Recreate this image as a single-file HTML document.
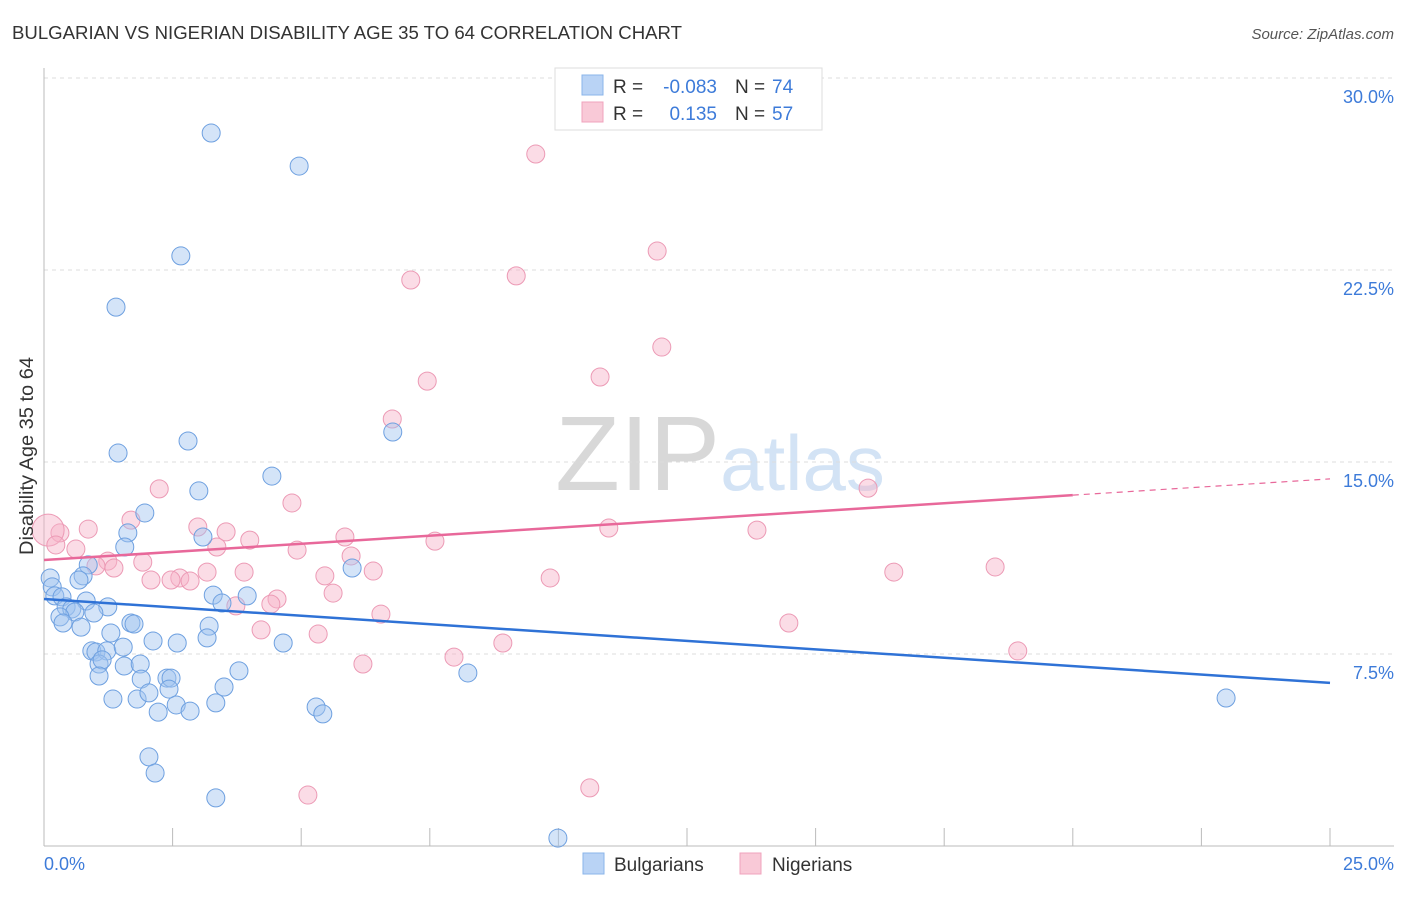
<!DOCTYPE html>
<html><head><meta charset="utf-8"><style>
body{margin:0;background:#fff;font-family:"Liberation Sans",sans-serif;}
svg text{font-family:"Liberation Sans",sans-serif;}
</style></head><body>
<svg id="chart" width="1406" height="892" viewBox="0 0 1406 892" xmlns="http://www.w3.org/2000/svg">
<text x="12" y="39" font-size="18" fill="#333" textLength="670" lengthAdjust="spacingAndGlyphs">BULGARIAN VS NIGERIAN DISABILITY AGE 35 TO 64 CORRELATION CHART</text>
<text x="1394" y="39" font-size="15" fill="#555" text-anchor="end" font-style="italic">Source: ZipAtlas.com</text>
<text x="720" y="490" font-size="106" text-anchor="middle" fill="#ddd" font-family="Liberation Serif"><tspan fill="#d8d8d8">ZIP</tspan><tspan fill="#d3e3f5" font-family="Liberation Sans" font-size="78">atlas</tspan></text>
<g id="grid"></g>
<g id="axes"></g>
<g id="pts"></g>
<g id="trend"></g>
<text transform="translate(33,456) rotate(-90)" font-size="19" fill="#333" text-anchor="middle" textLength="198" lengthAdjust="spacingAndGlyphs">Disability Age 35 to 64</text>
<g>
<rect x="555" y="68" width="267" height="62" fill="#fff" stroke="#ddd"/>
<rect x="582" y="75" width="21" height="20" fill="#b9d3f5" stroke="#8ab4ea"/>
<rect x="582" y="102" width="21" height="20" fill="#f9c9d7" stroke="#f0a3bc"/>
<text x="613" y="93" font-size="19" fill="#333">R =</text><text x="717" y="93" font-size="19" fill="#3d7bd9" text-anchor="end">-0.083</text>
<text x="735" y="93" font-size="19" fill="#333">N =</text><text x="772" y="93" font-size="19" fill="#3d7bd9">74</text>
<text x="613" y="120" font-size="19" fill="#333">R =</text><text x="717" y="120" font-size="19" fill="#3d7bd9" text-anchor="end">0.135</text>
<text x="735" y="120" font-size="19" fill="#333">N =</text><text x="772" y="120" font-size="19" fill="#3d7bd9">57</text>
</g>
<g>
<rect x="583" y="853" width="21" height="21" fill="#b9d3f5" stroke="#8ab4ea"/>
<text x="614" y="871" font-size="19" fill="#333">Bulgarians</text>
<rect x="740" y="853" width="21" height="21" fill="#f9c9d7" stroke="#f0a3bc"/>
<text x="772" y="871" font-size="19" fill="#333">Nigerians</text>
</g>
</svg>
<script>
const xTickLabels=["0.0%","25.0%"];
const yTicks=[7.5,15,22.5,30];
const yTickLabels=["7.5%","15.0%","22.5%","30.0%"];
const bulgX=[3.25,4.96,2.66,1.40,1.44,2.80,6.78,4.43,3.01,1.96,1.63,1.57,3.09,0.86,5.99,0.76,0.12,0.16,0.21,0.35,0.68,0.82,0.43,0.54,0.60,1.24,0.97,0.31,0.37,0.72,3.29,3.46,3.95,1.69,1.75,1.30,2.12,2.59,3.21,3.17,4.65,0.93,1.01,1.22,1.54,1.07,1.13,1.56,1.87,1.07,1.89,2.39,2.47,2.43,3.79,3.50,8.24,1.34,1.81,2.04,2.22,2.57,2.84,3.34,5.29,5.42,2.04,2.16,3.34,9.99,22.98];
const bulgY=[27.85,26.56,23.05,21.05,15.35,15.82,16.17,14.45,13.87,13.01,12.23,11.68,12.07,10.98,10.86,10.55,10.47,10.12,9.77,9.73,10.39,9.57,9.34,9.26,9.14,9.34,9.10,8.95,8.71,8.55,9.80,9.49,9.77,8.71,8.67,8.32,8.01,7.93,8.59,8.13,7.93,7.62,7.58,7.62,7.77,7.11,7.27,7.03,7.11,6.64,6.52,6.56,6.56,6.13,6.84,6.21,6.76,5.74,5.74,5.98,5.23,5.51,5.27,5.59,5.43,5.16,3.48,2.85,1.88,0.31,5.78];
const nigX=[9.56,11.92,9.18,7.13,7.45,10.81,12.01,6.77,16.02,2.24,4.82,0.86,1.69,2.99,3.54,4.00,0.31,0.08,0.23,0.62,3.36,4.92,5.85,5.97,7.60,10.98,13.86,1.24,1.01,1.36,1.92,2.08,2.64,2.47,2.84,3.17,3.89,5.46,6.40,9.84,16.52,18.49,5.62,4.53,4.41,3.73,6.55,4.22,5.33,14.48,7.97,8.92,6.20,18.93,5.13,10.61];
const nigY=[27.03,23.24,22.27,22.11,18.16,18.32,19.49,16.68,13.98,13.95,13.40,12.38,12.73,12.46,12.27,11.95,12.23,12.34,11.76,11.60,11.68,11.56,12.07,11.33,11.91,12.42,12.34,11.13,10.94,10.86,11.09,10.39,10.47,10.39,10.35,10.70,10.70,10.55,10.74,10.47,10.70,10.90,9.88,9.65,9.45,9.38,9.06,8.44,8.28,8.71,7.38,7.93,7.11,7.62,1.99,2.27];
const bulgTrend=[9.65,6.37];
const nigTrend=[11.17,14.34];
const nigSolidEnd=20.0;
const NS="http://www.w3.org/2000/svg";
const sx=v=>44+v/25*1286;
const sy=v=>846-v/7.5*192;
function mk(tag,attrs,parent){const e=document.createElementNS(NS,tag);for(const k in attrs)e.setAttribute(k,attrs[k]);parent.appendChild(e);return e;}
const grid=document.getElementById('grid'),axes=document.getElementById('axes'),pts=document.getElementById('pts'),trend=document.getElementById('trend');
yTicks.forEach((t,i)=>{
 const l=mk('line',{x1:44,x2:1394,y1:sy(t),y2:sy(t),stroke:'#ddd','stroke-dasharray':'4,4'},grid);
 
 
 const tx=mk('text',{x:1394,y:sy(t)+25,'font-size':18,fill:'#3d7bd9','text-anchor':'end'},axes);
 tx.textContent=yTickLabels[i];
 
 
});
const ya=mk('line',{x1:44,x2:44,y1:68,y2:846,stroke:'#bbb'},axes);


const xa=mk('line',{x1:44,x2:1394,y1:846,y2:846,stroke:'#bbb'},axes);


for(let i=1;i<=10;i++){const v=i*2.5;const t=mk('line',{x1:sx(v),x2:sx(v),y1:828,y2:846,stroke:'#bbb'},axes);
 
 }
[[0,'start',44],[25,'end',1394]].forEach((a,i)=>{const t=mk('text',{x:a[2],y:870,'font-size':18,fill:'#3d7bd9','text-anchor':a[1]},axes);t.textContent=xTickLabels[i];
 
 });
nigX.forEach((x,i)=>{const c=mk('circle',{cx:sx(x),cy:sy(nigY[i]),r:(x<0.1?16:9),fill:'rgba(246,178,200,0.45)',stroke:'#ec9ab5','stroke-width':1},pts);
 
 });
bulgX.forEach((x,i)=>{const c=mk('circle',{cx:sx(x),cy:sy(bulgY[i]),r:9,fill:'rgba(160,196,240,0.45)',stroke:'#6ea0e0','stroke-width':1},pts);
 
 });
const bl=mk('line',{x1:sx(0),y1:sy(bulgTrend[0]),x2:sx(25),y2:sy(bulgTrend[1]),stroke:'#2f72d6','stroke-width':2.5},trend);


const nEnd=nigTrend[0]+(nigTrend[1]-nigTrend[0])*nigSolidEnd/25;
const nl=mk('line',{x1:sx(0),y1:sy(nigTrend[0]),x2:sx(nigSolidEnd),y2:sy(nEnd),stroke:'#e8689a','stroke-width':2.5},trend);


const nd=mk('line',{x1:sx(nigSolidEnd),y1:sy(nEnd),x2:sx(25),y2:sy(nigTrend[1]),stroke:'#e8689a','stroke-width':1.2,'stroke-dasharray':'6,5'},trend);


</script>
</body></html>
